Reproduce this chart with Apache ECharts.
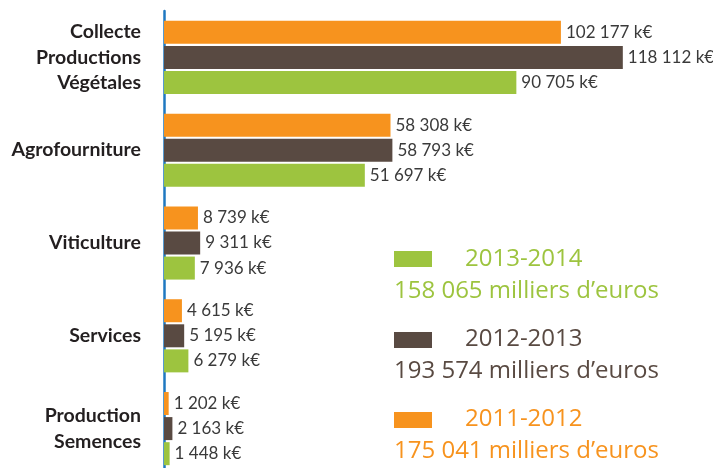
<!DOCTYPE html>
<html><head><meta charset="utf-8">
<script src="https://cdn.jsdelivr.net/npm/echarts@6/dist/echarts.min.js"></script>
<style>html,body{margin:0;padding:0;background:#fff}#c{width:713px;height:468px}</style>
</head><body><div id="c"></div>
<script>
const categories = ['Collecte\nProductions\nVégétales', 'Agrofourniture', 'Viticulture', 'Services', 'Production\nSemences'];
const v2011 = [102177, 58308, 8739, 4615, 1202];
const v2012 = [118112, 58793, 9311, 5195, 2163];
const v2013 = [90705, 51697, 7936, 6279, 1448];
const seriesNames = ['2011-2012', '2012-2013', '2013-2014'];
const totals = ['175 041 milliers d\u2019euros', '193 574 milliers d\u2019euros', '158 065 milliers d\u2019euros'];
const colors = ['#F7931E', '#594A42', '#9DC43F'];
const legendText = ['#F7931E', '#594A42', '#9DC43F'];

function fmt(v){ return String(v).replace(/\B(?=(\d{3})+(?!\d))/g, ' ') + ' k\u20ac'; }

const chart = echarts.init(document.getElementById('c'));
const mk = (name, data, color) => ({
  name, type: 'bar', data, barWidth: 23, barGap: '9%',
  itemStyle: { color },
  label: { show: true, position: 'right', distance: 5, formatter: p => fmt(p.value),
           fontFamily: 'Lato', fontSize: 17, color: '#3a3a3a' }
});
const graphics = [];
const legendY = [[251, 259.5, 291.5], [332, 339.5, 371.5], [412, 419.5, 451.5]];
const legOrder = [2, 1, 0];
legOrder.forEach((si, k) => {
  const [ry, y1, y2] = legendY[k];
  graphics.push({ type: 'rect', shape: { x: 394, y: ry, width: 38, height: 16 }, style: { fill: colors[si] } });
  graphics.push({ type: 'text', x: 465, y: y1, style: { text: seriesNames[si], fill: legendText[si], font: '24px "Open Sans"', textVerticalAlign: 'middle' } });
  graphics.push({ type: 'text', x: 394, y: y2, style: { text: totals[si], fill: legendText[si], font: '24px "Open Sans"', textVerticalAlign: 'middle' } });
});
chart.setOption({
  animation: false,
  grid: { left: 164, top: 11, right: 44, height: 464, containLabel: false, outerBoundsMode: 'none' },
  xAxis: { type: 'value', min: 0, max: 130000, show: false, splitLine: { show: false } },
  yAxis: { type: 'category', data: categories, inverse: true,
    axisLine: { show: true, lineStyle: { color: '#1F78C1', width: 2.5 } },
    axisTick: { show: false },
    axisLabel: { margin: 23, fontFamily: 'Lato', fontWeight: 'bold', fontSize: 19.5, color: '#231F20', lineHeight: 25.5, align: 'right' } },
  series: [mk(seriesNames[0], v2011, colors[0]), mk(seriesNames[1], v2012, colors[1]), mk(seriesNames[2], v2013, colors[2])],
  graphic: graphics
});
</script></body></html>
